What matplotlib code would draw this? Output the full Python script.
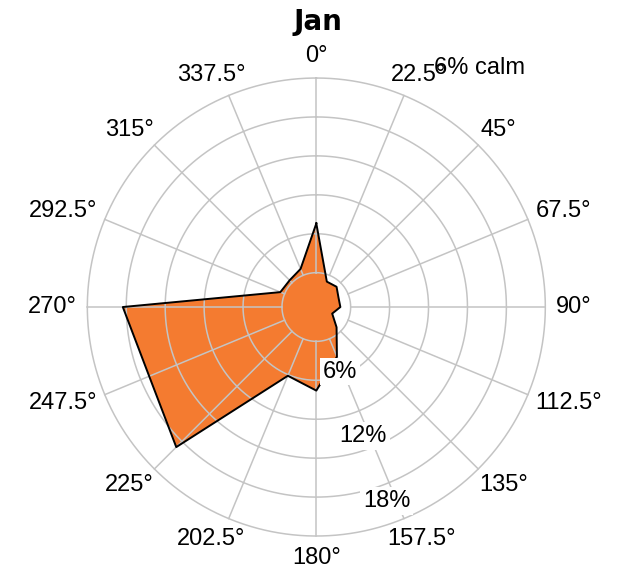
import numpy as np
import matplotlib
matplotlib.use("Agg")
import matplotlib.pyplot as plt
from matplotlib.transforms import offset_copy

plt.rcParams['font.family'] = ['Liberation Sans', 'DejaVu Sans']

# wind rose data (percent of hours per direction)
month = "Jan"
directions = [0, 22.5, 45, 67.5, 90, 112.5, 135, 157.5,
              180, 202.5, 225, 247.5, 270, 292.5, 315, 337.5]
freq = [7.3, 2.4, 2.5, 2.1, 2.1, 1.5, 2.5, 4.7,
        7.3, 6.5, 17.3, 15.8, 16.9, 3.4, 3.3, 3.6]
calm = 6
radial_ticks = [6, 12, 18]
dir_labels = ["%g°" % d for d in directions]

rmax = 20
grid_levels = np.linspace(calm / 2, rmax, 6)
orange = '#f47b30'
grid_col = '#c4c4c4'

fig = plt.figure(figsize=(6.18, 5.75), dpi=100)
ax = fig.add_axes([0.1413, 0.0678, 0.7411, 0.7965], projection='polar')
ax.set_theta_zero_location('N')
ax.set_theta_direction(-1)
ax.set_ylim(0, rmax)
ax.set_axis_off()

theta = np.deg2rad(directions + directions[:1])
r = np.array(freq + freq[:1])

# filled rose
ax.fill(theta, r, color=orange, lw=0, zorder=1)

# grid on top of the fill
circ = np.linspace(0, 2 * np.pi, 400)
for g in grid_levels:
    ax.plot(circ, np.full_like(circ, g), color=grid_col, lw=1.1, zorder=2, clip_on=False)
for d in directions:
    ax.plot([np.deg2rad(d)] * 2, [grid_levels[0], rmax], color=grid_col, lw=1.1, zorder=2, clip_on=False)

# outline
ax.plot(theta, r, color='black', lw=1.4, zorder=3)

# radial labels
for v in radial_ticks:
    ax.text(np.deg2rad(160), v, "%d%%" % v, fontsize=17, ha='center', va='center', zorder=5,
            bbox=dict(boxstyle='square,pad=0.12', fc='white', ec='none'))

# direction labels, pushed out so their edge sits on the anchor circle
lab_r = rmax * 240 / 229
texts = []
for d, lab in zip(directions, dir_labels):
    texts.append(ax.text(np.deg2rad(d), lab_r, lab, fontsize=17, ha='center', va='center'))

fig.canvas.draw()
renderer = fig.canvas.get_renderer()
for t, d in zip(texts, directions):
    bb = t.get_window_extent(renderer)
    a = np.deg2rad(d)
    t.set_transform(offset_copy(ax.transData, fig=fig,
                                x=0.5 * bb.width * np.sin(a),
                                y=0.5 * bb.height * np.cos(a), units='dots'))

fig.text(480 / 618, 1 - 68 / 575, "%d%% calm" % calm, fontsize=17, ha='center', va='center')
fig.text(0.515, 1 - 22 / 575, month, fontsize=20, fontweight='bold',
         family=['DejaVu Sans'], ha='center', va='center')

fig.savefig('out.png', dpi=100)
